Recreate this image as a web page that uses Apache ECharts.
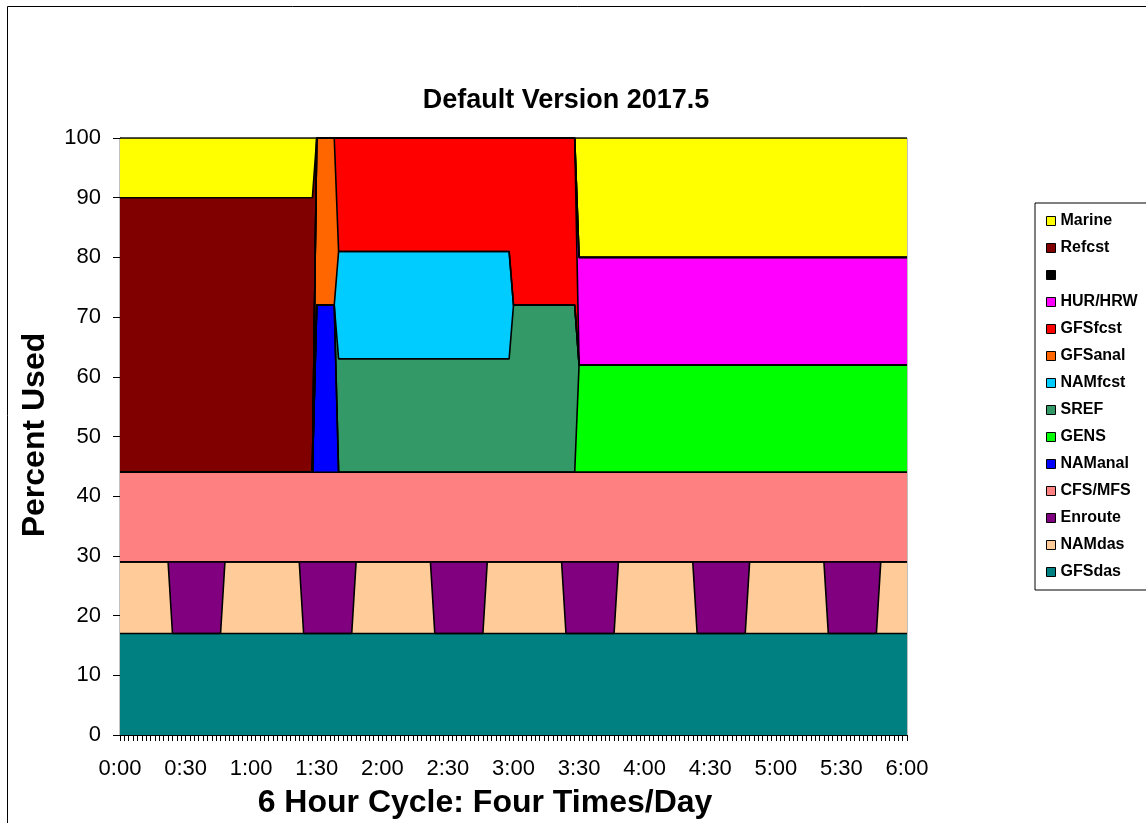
<!DOCTYPE html>
<html>
<head>
<meta charset="utf-8">
<script src="https://cdn.jsdelivr.net/npm/echarts@6/dist/echarts.min.js"></script>
<style>
html, body { margin: 0; padding: 0; background: #fff; }
#box { width: 1146px; height: 823px; }
</style>
</head>
<body>
<div id="box"></div>
<script>
// minutes into the 6 hour cycle where some job starts or stops
const minutes = [0, 22, 24, 46, 48, 82, 84, 88, 90, 98, 100, 106, 108, 142, 144, 166, 168, 178, 180, 202, 204, 208, 210, 226, 228, 262, 264, 286, 288, 322, 324, 346, 348, 360];

// percent used by each job at those minutes (bottom of the stack first)
const GFSdas  = [17,17,17,17,17,17,17,17,17,17,17,17,17,17,17,17,17,17,17,17,17,17,17,17,17,17,17,17,17,17,17,17,17,17];
const NAMdas  = [12,12, 0, 0,12,12, 0, 0, 0, 0, 0, 0,12,12, 0, 0,12,12,12,12, 0, 0, 0, 0,12,12, 0, 0,12,12, 0, 0,12,12];
const Enroute = [ 0, 0,12,12, 0, 0,12,12,12,12,12,12, 0, 0,12,12, 0, 0, 0, 0,12,12,12,12, 0, 0,12,12, 0, 0,12,12, 0, 0];
const CFSMFS  = [15,15,15,15,15,15,15,15,15,15,15,15,15,15,15,15,15,15,15,15,15,15,15,15,15,15,15,15,15,15,15,15,15,15];
const NAManal = [ 0, 0, 0, 0, 0, 0, 0, 0,28,28, 0, 0, 0, 0, 0, 0, 0, 0, 0, 0, 0, 0, 0, 0, 0, 0, 0, 0, 0, 0, 0, 0, 0, 0];
const GENS    = [ 0, 0, 0, 0, 0, 0, 0, 0, 0, 0, 0, 0, 0, 0, 0, 0, 0, 0, 0, 0, 0, 0,18,18,18,18,18,18,18,18,18,18,18,18];
const SREF    = [ 0, 0, 0, 0, 0, 0, 0, 0, 0, 0,19,19,19,19,19,19,19,19,28,28,28,28, 0, 0, 0, 0, 0, 0, 0, 0, 0, 0, 0, 0];
const NAMfcst = [ 0, 0, 0, 0, 0, 0, 0, 0, 0, 0,18,18,18,18,18,18,18,18, 0, 0, 0, 0, 0, 0, 0, 0, 0, 0, 0, 0, 0, 0, 0, 0];
const GFSanal = [ 0, 0, 0, 0, 0, 0, 0, 0,28,28, 0, 0, 0, 0, 0, 0, 0, 0, 0, 0, 0, 0, 0, 0, 0, 0, 0, 0, 0, 0, 0, 0, 0, 0];
const GFSfcst = [ 0, 0, 0, 0, 0, 0, 0, 0, 0, 0,19,19,19,19,19,19,19,19,28,28,28,28, 0, 0, 0, 0, 0, 0, 0, 0, 0, 0, 0, 0];
const HURHRW  = [ 0, 0, 0, 0, 0, 0, 0, 0, 0, 0, 0, 0, 0, 0, 0, 0, 0, 0, 0, 0, 0, 0,18,18,18,18,18,18,18,18,18,18,18,18];
const blank   = [ 0, 0, 0, 0, 0, 0, 0, 0, 0, 0, 0, 0, 0, 0, 0, 0, 0, 0, 0, 0, 0, 0, 0, 0, 0, 0, 0, 0, 0, 0, 0, 0, 0, 0];
const Refcst  = [46,46,46,46,46,46,46,46, 0, 0, 0, 0, 0, 0, 0, 0, 0, 0, 0, 0, 0, 0, 0, 0, 0, 0, 0, 0, 0, 0, 0, 0, 0, 0];
const Marine  = [10,10,10,10,10,10,10,10, 0, 0, 0, 0, 0, 0, 0, 0, 0, 0, 0, 0, 0, 0,20,20,20,20,20,20,20,20,20,20,20,20];

const jobs = [
    {name: 'GFSdas',   values: GFSdas,  color: '#008080'},
    {name: 'NAMdas',   values: NAMdas,  color: '#FFCC99'},
    {name: 'Enroute',  values: Enroute, color: '#800080'},
    {name: 'CFS/MFS',  values: CFSMFS,  color: '#FF8080'},
    {name: 'NAManal',  values: NAManal, color: '#0000FF'},
    {name: 'GENS',     values: GENS,    color: '#00FF00'},
    {name: 'SREF',     values: SREF,    color: '#339966'},
    {name: 'NAMfcst',  values: NAMfcst, color: '#00CCFF'},
    {name: 'GFSanal',  values: GFSanal, color: '#FF6600'},
    {name: 'GFSfcst',  values: GFSfcst, color: '#FF0000'},
    {name: 'HUR/HRW',  values: HURHRW,  color: '#FF00FF'},
    {name: ' ',        values: blank,   color: '#000000'},
    {name: 'Refcst',   values: Refcst,  color: '#800000'},
    {name: 'Marine',   values: Marine,  color: '#FFFF00'}
];

const font = '"Liberation Sans", Arial, sans-serif';

let chart = echarts.init(document.getElementById('box'));

function hhmm(v) {
    let m = v % 60;
    return Math.floor(v / 60) + ':' + (m < 10 ? '0' + m : m);
}

// value goes in column 0 so the stack is done on the percent, not on the minutes
let series = jobs.map(function (job) {
    return {
        name: job.name,
        type: 'line',
        stack: 'all',
        symbol: 'none',
        dimensions: ['pct', 'min'],
        encode: {x: 1, y: 0},
        data: job.values.map(function (v, i) { return [v, minutes[i]]; }),
        itemStyle: {color: job.color},
        lineStyle: {color: '#000', width: 1.6},
        areaStyle: {color: job.color, opacity: 1}
    };
});

let option = {
    animation: false,
    backgroundColor: '#fff',
    textStyle: {fontFamily: font},
    grid: {
        left: 120, top: 138, width: 787, height: 597,
        show: true, borderColor: '#808080', borderWidth: 1, backgroundColor: 'transparent'
    },
    legend: {
        orient: 'vertical',
        left: 1035, top: 203,
        padding: [10, 12, 10, 11],
        borderColor: '#000', borderWidth: 1,
        itemWidth: 9, itemHeight: 9, itemGap: 11,
        icon: 'rect',
        itemStyle: {borderColor: '#000', borderWidth: 1},
        textStyle: {fontFamily: font, fontSize: 16, fontWeight: 'bold', color: '#000'},
        data: jobs.map(function (j) { return j.name; }).reverse()
    },
    xAxis: {
        type: 'value', min: 0, max: 360, interval: 30,
        axisLine: {lineStyle: {color: '#000', width: 1}},
        axisTick: {length: 6, lineStyle: {color: '#000'}},
        minorTick: {show: true, splitNumber: 15, length: 6, lineStyle: {color: '#000'}},
        splitLine: {show: false},
        axisLabel: {formatter: hhmm, fontSize: 22, color: '#000', margin: 23, fontFamily: font}
    },
    yAxis: {
        type: 'value', min: 0, max: 100, interval: 10,
        axisLine: {show: true, lineStyle: {color: '#000', width: 1}},
        axisTick: {show: true, length: 7, lineStyle: {color: '#000'}},
        splitLine: {show: false},
        axisLabel: {fontSize: 22, color: '#000', margin: 19, fontFamily: font}
    },
    graphic: [
        {type: 'rect', shape: {x: 7.5, y: 6.5, width: 1300, height: 1000}, style: {fill: null, stroke: '#000', lineWidth: 1}, silent: true},
        {type: 'text', x: 566, y: 101, style: {text: 'Default Version 2017.5', font: 'bold 27px ' + font, fill: '#000', align: 'center', verticalAlign: 'middle'}},
        {type: 'text', x: 485, y: 803, style: {text: '6 Hour Cycle: Four Times/Day', font: 'bold 32px ' + font, fill: '#000', align: 'center', verticalAlign: 'middle'}},
        {type: 'text', x: 35, y: 435, rotation: Math.PI / 2, style: {text: 'Percent Used', font: 'bold 32px ' + font, fill: '#000', align: 'center', verticalAlign: 'middle'}}
    ],
    series: series
};

chart.setOption(option);
</script>
</body>
</html>
